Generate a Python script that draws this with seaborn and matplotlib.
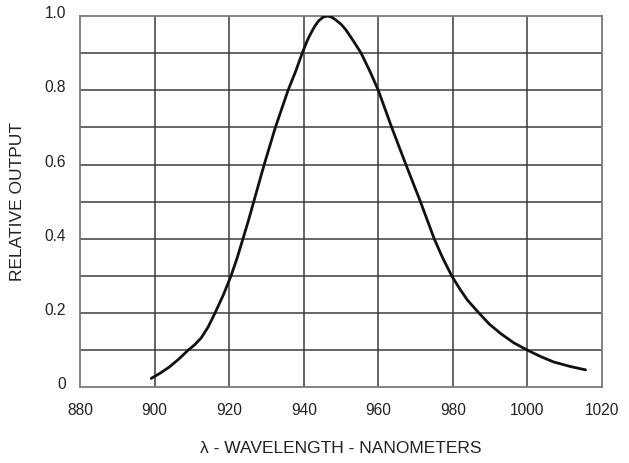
import matplotlib
matplotlib.use("Agg")
import matplotlib.pyplot as plt
import matplotlib.transforms as mtransforms
import seaborn as sns
import pandas as pd

wavelength = [899.1, 901.5, 904, 906.5, 909, 910.8, 912.5, 914.4, 916.2, 918.5, 920.5,
              922.2, 923.7, 925.2, 926.6, 929.4, 932.4, 935.8, 937.8, 939.6, 941, 942,
              943, 944, 945.2, 946.4, 947.5, 948.5, 950, 951.3, 953.5, 955.4, 957.8,
              960.0, 963.6, 967.4, 971.3, 975.0, 977.2, 979.7, 981.8, 983.9, 987.0,
              989.8, 992.8, 996.3, 1000, 1003.5, 1007.1, 1011.5, 1015.6]
output = [0.024, 0.038, 0.055, 0.076, 0.10, 0.115, 0.133, 0.163, 0.20, 0.25, 0.30,
          0.35, 0.40, 0.45, 0.50, 0.60, 0.70, 0.80, 0.85, 0.90, 0.935, 0.955,
          0.973, 0.987, 0.997, 1.0, 0.997, 0.99, 0.978, 0.963, 0.93, 0.90, 0.85,
          0.80, 0.70, 0.60, 0.50, 0.40, 0.35, 0.30, 0.266, 0.235, 0.20,
          0.17, 0.145, 0.12, 0.10, 0.083, 0.068, 0.056, 0.047]
x_ticks = [880, 900, 920, 940, 960, 980, 1000, 1020]
y_ticks = [0, 0.2, 0.4, 0.6, 0.8, 1.0]
y_tick_labels = ["0", "0.2", "0.4", "0.6", "0.8", "1.0"]
y_grid = [0.1, 0.2, 0.3, 0.4, 0.5, 0.6, 0.7, 0.8, 0.9]

sns.set_style("white")
plt.rcParams['font.family'] = ['Liberation Sans', 'DejaVu Sans']

df = pd.DataFrame({"wl": wavelength, "out": output})

fig = plt.figure(figsize=(6.29, 4.63), dpi=100)
ax = fig.add_axes([80/629, 1 - 387.3/463, (602-80)/629, (387.3-16)/463])

for xv in x_ticks[1:-1]:
    ax.axvline(xv, color="#3c3c3c", lw=1.1, zorder=1)
for yv in y_grid:
    ax.axhline(yv, color="#3c3c3c", lw=1.1, zorder=1)

sns.lineplot(data=df, x="wl", y="out", ax=ax, color="#111111", lw=2.0, zorder=3,
             solid_joinstyle="round", solid_capstyle="round")

ax.set_xlim(880, 1020)
ax.set_ylim(0, 1.0)
ax.set_xticks(x_ticks)
ax.set_xticklabels([str(v) for v in x_ticks], fontsize=11.2, color="#222222")
ax.set_yticks(y_ticks)
ax.set_yticklabels(y_tick_labels, fontsize=11.2, color="#222222")
ax.tick_params(axis="x", length=0, pad=11)
ax.tick_params(axis="y", length=0, pad=10)
offset = mtransforms.ScaledTranslation(0, 4/100, fig.dpi_scale_trans)
for lbl in ax.get_yticklabels():
    lbl.set_transform(lbl.get_transform() + offset)

for s in ax.spines.values():
    s.set_color("#7a7a7a")
    s.set_linewidth(1.3)

ax.set_xlabel("λ - WAVELENGTH - NANOMETERS", fontsize=12.5, color="#222222", labelpad=17)
ax.set_ylabel("RELATIVE OUTPUT", fontsize=12.5, color="#222222", labelpad=14)

fig.savefig("out.png", dpi=100)
